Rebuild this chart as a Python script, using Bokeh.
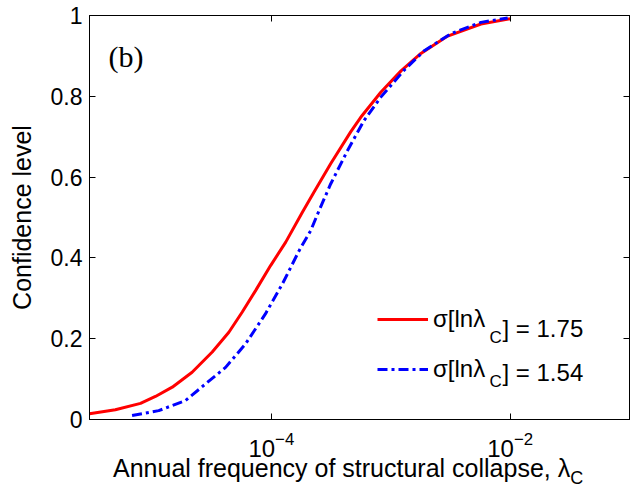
import math
from bokeh.plotting import figure
from bokeh.layouts import column
from bokeh.models import (FixedTicker, LogAxis, LinearAxis, Label, Legend, LegendItem,
                          Range1d, CustomJSTickFormatter, LogTickFormatter, Div)
from bokeh.core.properties import value
from bokeh.embed import file_html
from bokeh.resources import INLINE

# ---- data ----
red_x = [3.0e-6, 4.94e-6, 8.02e-6, 1.07e-5, 1.48e-5, 2.17e-5, 3.20e-5, 4.41e-5, 5.71e-5,
         7.38e-5, 9.86e-5, 1.32e-4, 1.82e-4, 2.28e-4, 3.14e-4, 4.62e-4, 5.61e-4, 8.26e-4,
         1.22e-3, 1.79e-3, 3.00e-3, 5.70e-3, 1.0e-2]
red_y = [0.014, 0.024, 0.040, 0.057, 0.080, 0.117, 0.167, 0.216, 0.266,
         0.319, 0.381, 0.439, 0.513, 0.563, 0.633, 0.712, 0.748, 0.810,
         0.863, 0.906, 0.949, 0.979, 0.992]

blue_x = [6.82e-6, 1.14e-5, 1.91e-5, 2.81e-5, 4.14e-5, 6.08e-5, 8.95e-5, 1.24e-4, 1.71e-4,
          2.14e-4, 2.51e-4, 3.14e-4, 4.35e-4, 5.98e-4, 8.26e-4, 1.29e-3, 1.91e-3, 3.19e-3,
          5.70e-3, 9.55e-3]
blue_y = [0.010, 0.022, 0.047, 0.088, 0.129, 0.187, 0.262, 0.336, 0.418,
          0.468, 0.517, 0.583, 0.666, 0.740, 0.798, 0.864, 0.913, 0.955,
          0.983, 0.994]

x_ticks = [1e-4, 1e-2]
y_ticks = [0, 0.2, 0.4, 0.6, 0.8, 1.0]
legend_values = ["1.75", "1.54"]

X_MIN, X_MAX = 3.0e-6, 0.1

FONT = "Liberation Sans"

p = figure(width=635, height=461, x_axis_type="log",
           x_range=Range1d(X_MIN, X_MAX), y_range=Range1d(0, 1),
           min_border_left=89, min_border_right=6, min_border_top=15, min_border_bottom=42,
           toolbar_location=None, output_backend="svg")
p.xgrid.visible = False
p.ygrid.visible = False
p.outline_line_color = "black"
p.outline_line_width = 1
p.background_fill_color = "white"
p.border_fill_color = "white"

# frame geometry in pixels (for placing annotations)
FL, FR, FT, FB = 89, 629, 15, 419


def dx(px):
    lo, hi = math.log10(X_MIN), math.log10(X_MAX)
    return 10 ** (lo + (px - FL) / (FR - FL) * (hi - lo))


def dy(py):
    return (FB - py) / (FB - FT)


xt = FixedTicker(ticks=x_ticks, minor_ticks=[])
yt = FixedTicker(ticks=y_ticks, minor_ticks=[])

xa = p.xaxis[0]
xa.ticker = xt
xa.formatter = LogTickFormatter()
ya = p.yaxis[0]
ya.ticker = yt
ya.formatter = CustomJSTickFormatter(code="return String(Math.round(tick*10)/10)")

for ax in (xa, ya):
    ax.major_tick_in = 6
    ax.major_tick_out = 0
    ax.minor_tick_in = 0
    ax.minor_tick_out = 0
    ax.axis_line_color = "black"
    ax.major_tick_line_color = "black"
    ax.major_label_text_font = FONT
    ax.major_label_text_color = "black"
ya.major_label_text_font_size = "23px"
xa.major_label_text_font_size = "24px"
ya.major_label_standoff = 7
xa.major_label_standoff = 12

ya.axis_label = "Confidence level"
ya.axis_label_text_font = FONT
ya.axis_label_text_font_size = "25px"
ya.axis_label_text_font_style = "normal"
ya.axis_label_text_color = "black"
ya.axis_label_standoff = 12

top = LogAxis(ticker=FixedTicker(ticks=x_ticks, minor_ticks=[]),
              formatter=CustomJSTickFormatter(code="return ''"),
              major_tick_in=6, major_tick_out=0, minor_tick_in=0, minor_tick_out=0,
              major_label_standoff=0, axis_line_color="black")
right = LinearAxis(ticker=FixedTicker(ticks=y_ticks, minor_ticks=[]),
                   formatter=CustomJSTickFormatter(code="return ''"),
                   major_tick_in=6, major_tick_out=0, minor_tick_in=0, minor_tick_out=0,
                   major_label_standoff=0, axis_line_color="black")
p.add_layout(top, "above")
p.add_layout(right, "right")

r_red = p.line(red_x, red_y, line_color="#ff0000", line_width=3)
r_blue = p.line(blue_x, blue_y, line_color="#0000ff", line_width=3, line_dash="10 4 3 4")

legend = Legend(items=[LegendItem(label=value("σ[lnλ"), renderers=[r_red]),
                       LegendItem(label=value("σ[lnλ"), renderers=[r_blue])],
                location=(288, 36), glyph_width=51, glyph_height=22, label_height=22,
                spacing=22, padding=0, margin=0, label_standoff=5,
                border_line_alpha=0, background_fill_alpha=0,
                label_text_font=FONT, label_text_font_size="24px", label_text_color="black")
p.add_layout(legend)

rows_y = [328, 372]
for ry, val in zip(rows_y, legend_values):
    p.add_layout(Label(x=dx(489), y=dy(ry + 9), text="C", text_font=FONT,
                       text_font_size="17px", text_align="left", text_baseline="middle",
                       text_color="black"))
    p.add_layout(Label(x=dx(502), y=dy(ry), text="] = " + val, text_font=FONT,
                       text_font_size="24px", text_align="left", text_baseline="middle",
                       text_color="black"))

# panel tag
p.add_layout(Label(x=dx(108), y=dy(56), text="(b)", text_font="Liberation Serif",
                   text_font_size="30px", text_align="left", text_baseline="middle",
                   text_color="black"))

# x axis title with a real subscript, as page text below the plot
xlabel = Div(text='Annual frequency of structural collapse, λ'
                  '<sub style="font-size:18px;vertical-align:-7px;line-height:0">C</sub>',
             width=635, height=36, margin=0,
             styles={"font-family": FONT, "font-size": "25px", "line-height": "15px",
                     "color": "black", "padding-left": "113px", "white-space": "nowrap",
                     "box-sizing": "border-box", "overflow": "visible"})

layout = column(p, xlabel, spacing=0)

open("out.html", "w").write(file_html(layout, INLINE))
